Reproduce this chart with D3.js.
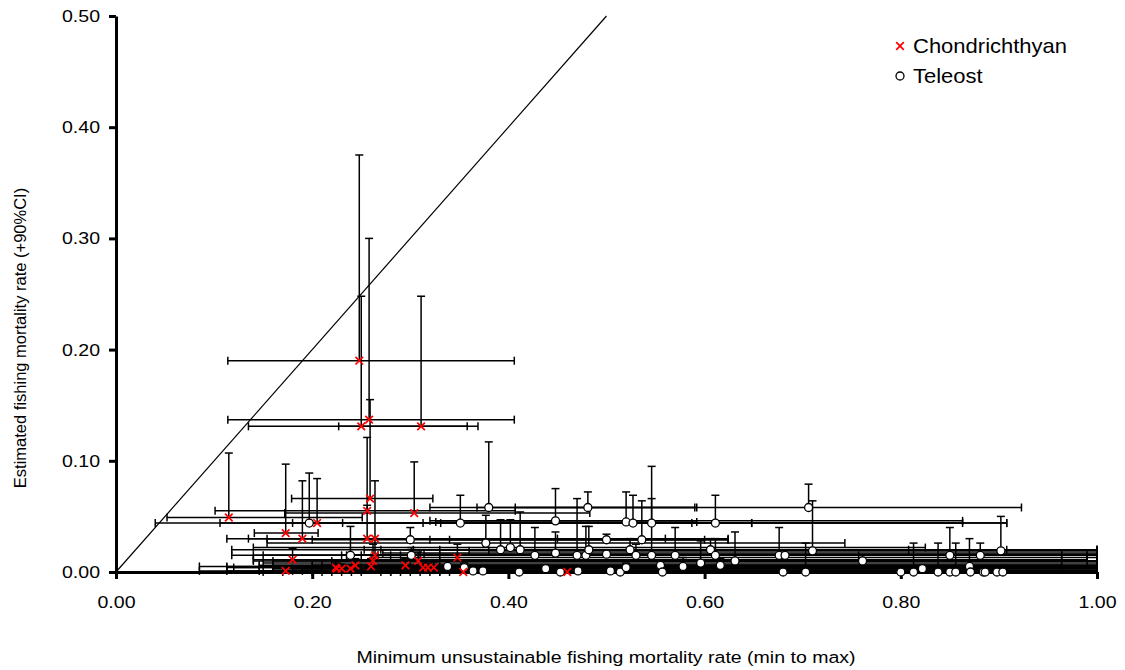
<!DOCTYPE html>
<html>
<head>
<meta charset="utf-8">
<script src="https://cdn.jsdelivr.net/npm/d3@7"></script>
<style>
  html, body { margin: 0; padding: 0; background: #fff; }
  svg { display: block; }
  text { font-family: "Liberation Sans", Arial, sans-serif; fill: #000; }
</style>
</head>
<body>
<svg id="chart" width="1125" height="670"></svg>
<script>
// Chondrichthyans: minimum unsustainable F (point, min, max) and estimated F (point, upper 90% CI)
const chondX    = [0.248, 0.250, 0.258, 0.311, 0.259, 0.256, 0.115, 0.205, 0.304, 0.173, 0.190, 0.256, 0.264, 0.180, 0.173, 0.224, 0.264, 0.262, 0.260, 0.244, 0.239, 0.225, 0.230, 0.295, 0.308, 0.313, 0.318, 0.324, 0.348, 0.354, 0.460];
const chondY    = [0.190, 0.131, 0.137, 0.131, 0.066, 0.055, 0.049, 0.044, 0.053, 0.035, 0.030, 0.030, 0.030, 0.011, 0.001, 0.004, 0.015, 0.010, 0.005, 0.006, 0.003, 0.003, 0.003, 0.006, 0.010, 0.004, 0.004, 0.004, 0.013, 0.000, 0.000];
const chondYHi  = [0.375, 0.248, 0.300, 0.248, 0.155, 0.121, 0.107, 0.084, 0.099, 0.097, 0.082, 0.060, 0.082, 0.021, 0.004, 0.010, 0.030, 0.025, 0.012, 0.012, 0.006, 0.008, 0.007, 0.012, 0.018, 0.008, 0.008, 0.009, 0.025, 0.002, 0.002];
const chondXLo  = [0.114, 0.135, 0.114, 0.227, 0.179, 0.101, 0.052, 0.040, 0.172, 0.141, 0.113, 0.154, 0.135, 0.140, 0.085, 0.120, 0.150, 0.140, 0.113, 0.146, 0.160, 0.180, 0.190, 0.200, 0.220, 0.230, 0.240, 0.250, 0.260, 0.280, 0.330];
const chondXHi  = [0.406, 0.369, 0.406, 0.358, 0.323, 0.407, 0.251, 0.908, 0.483, 0.206, 0.624, 0.450, 0.560, 0.990, 1.000, 1.000, 1.000, 1.000, 1.000, 0.964, 1.000, 0.908, 1.000, 1.000, 0.990, 1.000, 1.000, 0.964, 1.000, 1.000, 1.000];

// Teleosts: same layout
const teleX   = [0.197, 0.239, 0.300, 0.301, 0.351, 0.380, 0.377, 0.392, 0.402, 0.412, 0.427, 0.448, 0.448, 0.470, 0.479, 0.481, 0.482, 0.500, 0.500, 0.520, 0.527, 0.524, 0.530, 0.536, 0.546, 0.546, 0.570, 0.578, 0.596, 0.606, 0.611, 0.611, 0.616, 0.631, 0.676, 0.682, 0.706, 0.710, 0.761, 0.850, 0.881, 0.902, 0.870, 0.338, 0.355, 0.364, 0.374, 0.411, 0.438, 0.453, 0.471, 0.504, 0.514, 0.520, 0.555, 0.557, 0.680, 0.703, 0.800, 0.813, 0.822, 0.838, 0.850, 0.856, 0.871, 0.884, 0.886, 0.898, 0.904];
const teleY   = [0.044, 0.015, 0.029, 0.015, 0.044, 0.058, 0.026, 0.020, 0.022, 0.020, 0.015, 0.046, 0.017, 0.015, 0.015, 0.058, 0.020, 0.029, 0.016, 0.045, 0.044, 0.020, 0.015, 0.029, 0.044, 0.015, 0.015, 0.005, 0.008, 0.020, 0.044, 0.015, 0.006, 0.010, 0.015, 0.015, 0.058, 0.019, 0.010, 0.015, 0.015, 0.019, 0.005, 0.005, 0.004, 0.001, 0.001, 0.000, 0.003, 0.000, 0.001, 0.001, 0.000, 0.004, 0.006, 0.000, 0.000, 0.000, 0.000, 0.000, 0.003, 0.000, 0.000, 0.000, 0.000, 0.000, 0.000, 0.000, 0.000];
const teleYHi = [0.089, 0.041, 0.040, 0.022, 0.069, 0.117, 0.051, 0.047, 0.047, 0.054, 0.040, 0.075, 0.036, 0.066, 0.041, 0.072, 0.041, 0.034, 0.020, 0.072, 0.069, 0.030, 0.025, 0.064, 0.095, 0.066, 0.040, 0.013, 0.028, 0.030, 0.069, 0.030, 0.012, 0.036, 0.040, 0.020, 0.079, 0.064, 0.015, 0.040, 0.026, 0.050, 0.030, 0.010, 0.008, 0.003, 0.003, 0.002, 0.006, 0.002, 0.003, 0.003, 0.002, 0.008, 0.010, 0.002, 0.002, 0.026, 0.002, 0.026, 0.006, 0.026, 0.002, 0.026, 0.002, 0.002, 0.002, 0.002, 0.002];
const teleXLo = [0.180, 0.118, 0.200, 0.140, 0.313, 0.368, 0.154, 0.118, 0.140, 0.253, 0.267, 0.320, 0.272, 0.280, 0.290, 0.407, 0.303, 0.320, 0.314, 0.326, 0.331, 0.330, 0.230, 0.340, 0.231, 0.235, 0.250, 0.146, 0.150, 0.270, 0.106, 0.240, 0.160, 0.160, 0.300, 0.310, 0.320, 0.380, 0.330, 0.330, 0.300, 0.360, 0.300, 0.085, 0.113, 0.113, 0.146, 0.150, 0.160, 0.170, 0.180, 0.190, 0.200, 0.200, 0.210, 0.210, 0.220, 0.230, 0.240, 0.250, 0.260, 0.270, 0.280, 0.290, 0.300, 0.310, 0.320, 0.330, 0.340];
const teleXHi = [0.648, 1.000, 0.624, 0.990, 0.587, 0.590, 0.743, 1.000, 0.825, 1.000, 0.757, 0.863, 1.000, 0.964, 1.000, 0.592, 0.908, 0.600, 1.000, 0.592, 0.648, 0.808, 1.000, 0.624, 0.908, 1.000, 0.990, 1.000, 1.000, 1.000, 0.863, 0.964, 1.000, 1.000, 1.000, 1.000, 0.923, 1.000, 1.000, 1.000, 1.000, 1.000, 1.000, 1.000, 1.000, 1.000, 1.000, 1.000, 1.000, 1.000, 1.000, 1.000, 1.000, 1.000, 1.000, 1.000, 1.000, 1.000, 1.000, 1.000, 1.000, 1.000, 1.000, 1.000, 1.000, 1.000, 1.000, 1.000, 1.000];

const xTicks = [0, 0.2, 0.4, 0.6, 0.8, 1.0];
const yTicks = [0, 0.1, 0.2, 0.3, 0.4, 0.5];
const seriesNames = ["Chondrichthyan", "Teleost"];
const xTitle = "Minimum unsustainable fishing mortality rate (min to max)";
const yTitle = "Estimated fishing mortality rate (+90%CI)";

const svg = d3.select("#chart");
const x = d3.scaleLinear().domain([0, 1]).range([116, 1097]);
const y = d3.scaleLinear().domain([0, 0.5]).range([572, 16]);
const STRETCH = 1.15;   // glyphs are set slightly wide
const fmt = d3.format(".2f");

function rows(xs, ys, yHi, xLo, xHi) {
  return xs.map((v, i) => ({ x: v, y: ys[i], yHi: yHi[i], xLo: xLo[i], xHi: xHi[i] }));
}
const chond = rows(chondX, chondY, chondYHi, chondXLo, chondXHi);
const tele = rows(teleX, teleY, teleYHi, teleXLo, teleXHi);

// Axes
const yAxis = svg.append("g").attr("transform", `translate(${x(0)},0)`)
  .call(d3.axisLeft(y).tickValues(yTicks).tickFormat(fmt).tickSize(7).tickSizeOuter(0).tickPadding(7));
const xAxis = svg.append("g").attr("transform", `translate(0,${y(0)})`)
  .call(d3.axisBottom(x).tickValues(xTicks).tickFormat(fmt).tickSize(7).tickSizeOuter(0).tickPadding(17));
[yAxis, xAxis].forEach(a => {
  a.select(".domain").attr("stroke", "#000").attr("stroke-width", 3);
  a.selectAll(".tick line").attr("stroke", "#000").attr("stroke-width", 3);
  a.selectAll(".tick text")
    .style("font-size", "17px")
    .attr("fill", "#000")
    .attr("transform", `scale(${STRETCH},1)`);
});
yAxis.selectAll(".tick text").attr("x", -16 / STRETCH);

// 1:1 reference line
svg.append("line")
  .attr("x1", x(0)).attr("y1", y(0)).attr("x2", x(0.5)).attr("y2", y(0.5))
  .attr("stroke", "#000").attr("stroke-width", 1.2);

// Error bars
const bars = svg.append("g").attr("stroke", "#000").attr("stroke-width", 1.5).attr("fill", "none");
function drawBars(data) {
  const g = bars.append("g");
  data.forEach(d => {
    const px = x(d.x), py = y(d.y);
    // horizontal range min..max
    g.append("line").attr("x1", x(d.xLo)).attr("x2", x(d.xHi)).attr("y1", py).attr("y2", py);
    g.append("line").attr("x1", x(d.xLo)).attr("x2", x(d.xLo)).attr("y1", py - 4).attr("y2", py + 4);
    g.append("line").attr("x1", x(d.xHi)).attr("x2", x(d.xHi)).attr("y1", py - 4).attr("y2", py + 4);
    // upper confidence limit
    g.append("line").attr("x1", px).attr("x2", px).attr("y1", py).attr("y2", y(d.yHi));
    g.append("line").attr("x1", px - 4).attr("x2", px + 4).attr("y1", y(d.yHi)).attr("y2", y(d.yHi));
  });
}
drawBars(chond);
drawBars(tele);

// Markers
function crossPath(cx, cy, r) {
  return `M${cx - r},${cy - r}L${cx + r},${cy + r}M${cx - r},${cy + r}L${cx + r},${cy - r}`;
}
svg.append("g").selectAll("circle").data(tele).join("circle")
  .attr("cx", d => x(d.x)).attr("cy", d => y(d.y)).attr("r", 4)
  .attr("fill", "#fff").attr("stroke", "#000").attr("stroke-width", 1.3);
svg.append("g").selectAll("path").data(chond).join("path")
  .attr("d", d => crossPath(x(d.x), y(d.y), 3.8))
  .attr("stroke", "#ff0000").attr("stroke-width", 1.7).attr("fill", "none");

// Legend
const legend = svg.append("g");
legend.append("path").attr("d", crossPath(900, 46, 3.8))
  .attr("stroke", "#ff0000").attr("stroke-width", 1.7).attr("fill", "none");
legend.append("circle").attr("cx", 900).attr("cy", 76).attr("r", 4)
  .attr("fill", "#fff").attr("stroke", "#000").attr("stroke-width", 1.3);
[[seriesNames[0], 53], [seriesNames[1], 83]].forEach(([t, by]) => {
  legend.append("g").attr("transform", `translate(913,${by})`)
    .append("text").attr("transform", "scale(1.1,1)")
    .style("font-size", "20px").text(t);
});

// Axis titles
svg.append("g").attr("transform", "translate(606,663)")
  .append("text").attr("transform", `scale(${STRETCH},1)`)
  .attr("text-anchor", "middle").style("font-size", "17px").text(xTitle);
svg.append("text")
  .attr("transform", "translate(26,338) rotate(-90)")
  .attr("text-anchor", "middle").style("font-size", "16.5px").text(yTitle);
</script>
</body>
</html>
